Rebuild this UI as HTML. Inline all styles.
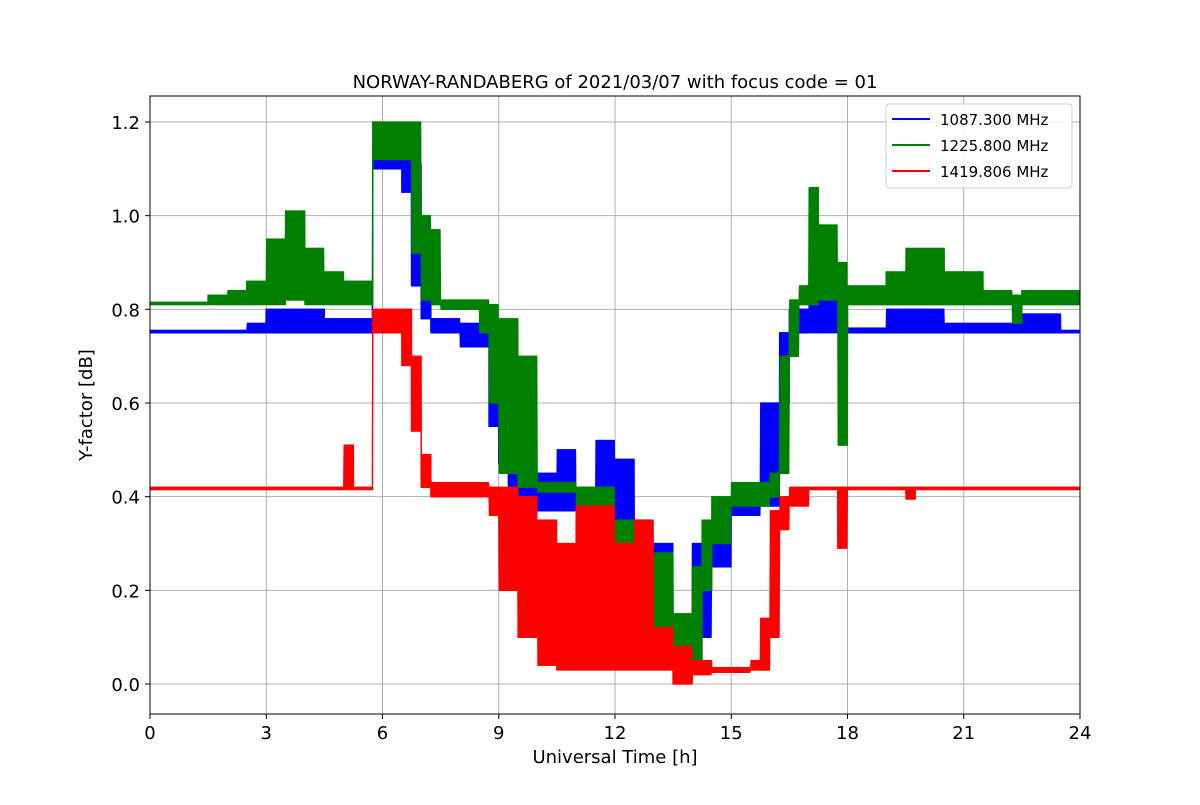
<!DOCTYPE html>
<html><head><meta charset="utf-8"><style>
body{margin:0;background:#fff}
svg{font-family:"DejaVu Sans","Liberation Sans",sans-serif}
</style></head><body>
<svg id="chart" width="1200" height="800">
<rect x="0" y="0" width="1200" height="800" fill="#fff"/>
<g id="grid"></g>
<g id="series"></g>
<rect x="150" y="96" width="930" height="618" fill="none" stroke="#000" stroke-width="1"/>
<g id="axes"></g>
<text x="615" y="88" font-size="18" text-anchor="middle">NORWAY-RANDABERG of 2021/03/07 with focus code = 01</text>
<text x="615" y="763" font-size="18" text-anchor="middle">Universal Time [h]</text>
<text transform="translate(92,405) rotate(-90)" font-size="18" text-anchor="middle">Y-factor [dB]</text>
<g>
<rect x="886" y="104" width="186" height="84" rx="3" fill="#fff" fill-opacity="0.85" stroke="#ccc"/>
<g><line x1="892" y1="119" x2="930" y2="119" stroke="#0000ff" stroke-width="2"/><text x="940" y="125" font-size="15">1087.300 MHz</text></g>
<g><line x1="892" y1="145" x2="930" y2="145" stroke="#008000" stroke-width="2"/><text x="940" y="151" font-size="15">1225.800 MHz</text></g>
<g><line x1="892" y1="171" x2="930" y2="171" stroke="#ff0000" stroke-width="2"/><text x="940" y="177" font-size="15">1419.806 MHz</text></g>
</g>
</svg>
<script>
const xTicks=[0,3,6,9,12,15,18,21,24];
const yTicks=[0.0,0.2,0.4,0.6,0.8,1.0,1.2];
const yTickLabels=["0.0","0.2","0.4","0.6","0.8","1.0","1.2"];
// piecewise envelopes: segment start times, min and max per segment
const blueT=[0,2.5,3,4.5,5.75,6.5,6.75,7,7.25,8,8.75,9,9.25,9.5,10.5,11,11.5,12,12.5,13,13.5,14,14.5,15,15.75,16.25,16.5,17,18,19,20.5,22.5,23.5];
const blueLo=[0.75,0.75,0.75,0.75,1.10,1.05,0.85,0.78,0.75,0.72,0.55,0.47,0.38,0.37,0.37,0.37,0.35,0.28,0.22,0.15,0.03,0.10,0.25,0.36,0.38,0.60,0.75,0.75,0.75,0.75,0.75,0.75,0.75];
const blueHi=[0.755,0.77,0.80,0.78,1.15,1.12,1.11,0.82,0.78,0.77,0.75,0.60,0.55,0.45,0.50,0.42,0.52,0.48,0.35,0.30,0.12,0.30,0.37,0.40,0.60,0.75,0.80,0.82,0.76,0.80,0.77,0.79,0.755];
const greenT=[0,1.5,2,2.5,3,3.5,4,4.5,5,5.75,6.75,7,7.25,7.5,8.5,8.75,9,9.5,10,11,11.5,12,12.5,13,13.5,14,14.25,14.5,15,16,16.25,16.5,16.75,17,17.25,17.75,18,19,19.5,20.5,21.5,22.25,22.5];
const greenLo=[0.81,0.81,0.81,0.81,0.81,0.82,0.81,0.81,0.81,1.12,0.92,0.82,0.81,0.80,0.75,0.60,0.45,0.42,0.41,0.33,0.10,0.05,0.05,0.05,0.03,0.05,0.20,0.30,0.38,0.40,0.45,0.70,0.81,0.81,0.82,0.51,0.81,0.81,0.81,0.81,0.81,0.77,0.81];
const greenHi=[0.815,0.83,0.84,0.86,0.95,1.01,0.93,0.88,0.86,1.20,1.20,1.00,0.97,0.82,0.82,0.81,0.78,0.70,0.43,0.42,0.42,0.35,0.30,0.28,0.15,0.25,0.35,0.40,0.43,0.45,0.70,0.82,0.85,1.06,0.98,0.90,0.85,0.88,0.93,0.88,0.84,0.83,0.84];
const redT=[0,5,5.25,5.75,6.5,6.75,7,7.25,8.75,9,9.5,10,10.5,11,12,12.5,13,13.5,14,14.5,15.5,15.75,16,16.25,16.5,17,17.75,18,19.5,19.75];
const redLo=[0.415,0.415,0.415,0.75,0.68,0.54,0.42,0.40,0.36,0.20,0.10,0.04,0.03,0.03,0.03,0.03,0.03,0.00,0.02,0.025,0.03,0.03,0.10,0.33,0.38,0.415,0.29,0.415,0.395,0.415];
const redHi=[0.42,0.51,0.42,0.80,0.80,0.70,0.49,0.43,0.42,0.42,0.40,0.35,0.30,0.38,0.30,0.35,0.12,0.08,0.05,0.035,0.05,0.14,0.37,0.40,0.42,0.42,0.42,0.42,0.42,0.42];

const NS="http://www.w3.org/2000/svg";
const X0=150,X1=1080,Y0=684,Y1=122;
function xs(t){return X0+(X1-X0)*t/24;}
function ys(v){return Y0+(Y1-Y0)*v/1.2;}
const grid=document.getElementById('grid'),axes=document.getElementById('axes'),ser=document.getElementById('series');
function mk(tag,attrs,parent){const e=document.createElementNS(NS,tag);for(const k in attrs)e.setAttribute(k,attrs[k]);parent.appendChild(e);return e;}
xTicks.forEach(t=>{
  const g=mk('line',{x1:xs(t),x2:xs(t),y1:96,y2:714,stroke:'#b0b0b0','stroke-width':1},grid);
  
  
  const tk=mk('line',{x1:xs(t),x2:xs(t),y1:714,y2:719,stroke:'#000'},axes);
  
  
  const l=mk('text',{x:xs(t),y:739,'font-size':18,'text-anchor':'middle'},axes);
  l.textContent=t;
  
  
});
yTicks.forEach((v,i)=>{
  const g=mk('line',{x1:150,x2:1080,y1:ys(v),y2:ys(v),stroke:'#b0b0b0','stroke-width':1},grid);
  
  
  const tk=mk('line',{x1:145,x2:150,y1:ys(v),y2:ys(v),stroke:'#000'},axes);
  
  
  const l=mk('text',{x:140,y:ys(v)+7,'font-size':18,'text-anchor':'end'},axes);
  l.textContent=yTickLabels[i];
  
  
});
function drawSeries(T,lo,hi,color,name){
  let pts=[];let k=0;
  for(let i=0;i<T.length;i++){
    const a=xs(T[i]),b=xs(i+1<T.length?T[i+1]:24);
    for(let x=a;x<b;x+=0.5){
      const v=(k++%2===0)?lo[i]:hi[i];
      pts.push(x.toFixed(2)+','+ys(v).toFixed(1));
    }
  }
  const p=mk('polyline',{points:pts.join(' '),fill:'none',stroke:color,'stroke-width':1.5,'stroke-linejoin':'round'},ser);
  
  
}
drawSeries(blueT,blueLo,blueHi,'#0000ff','series-1087-mhz');
drawSeries(greenT,greenLo,greenHi,'#008000','series-1225-mhz');
drawSeries(redT,redLo,redHi,'#ff0000','series-1419-mhz');
</script>
</body></html>
